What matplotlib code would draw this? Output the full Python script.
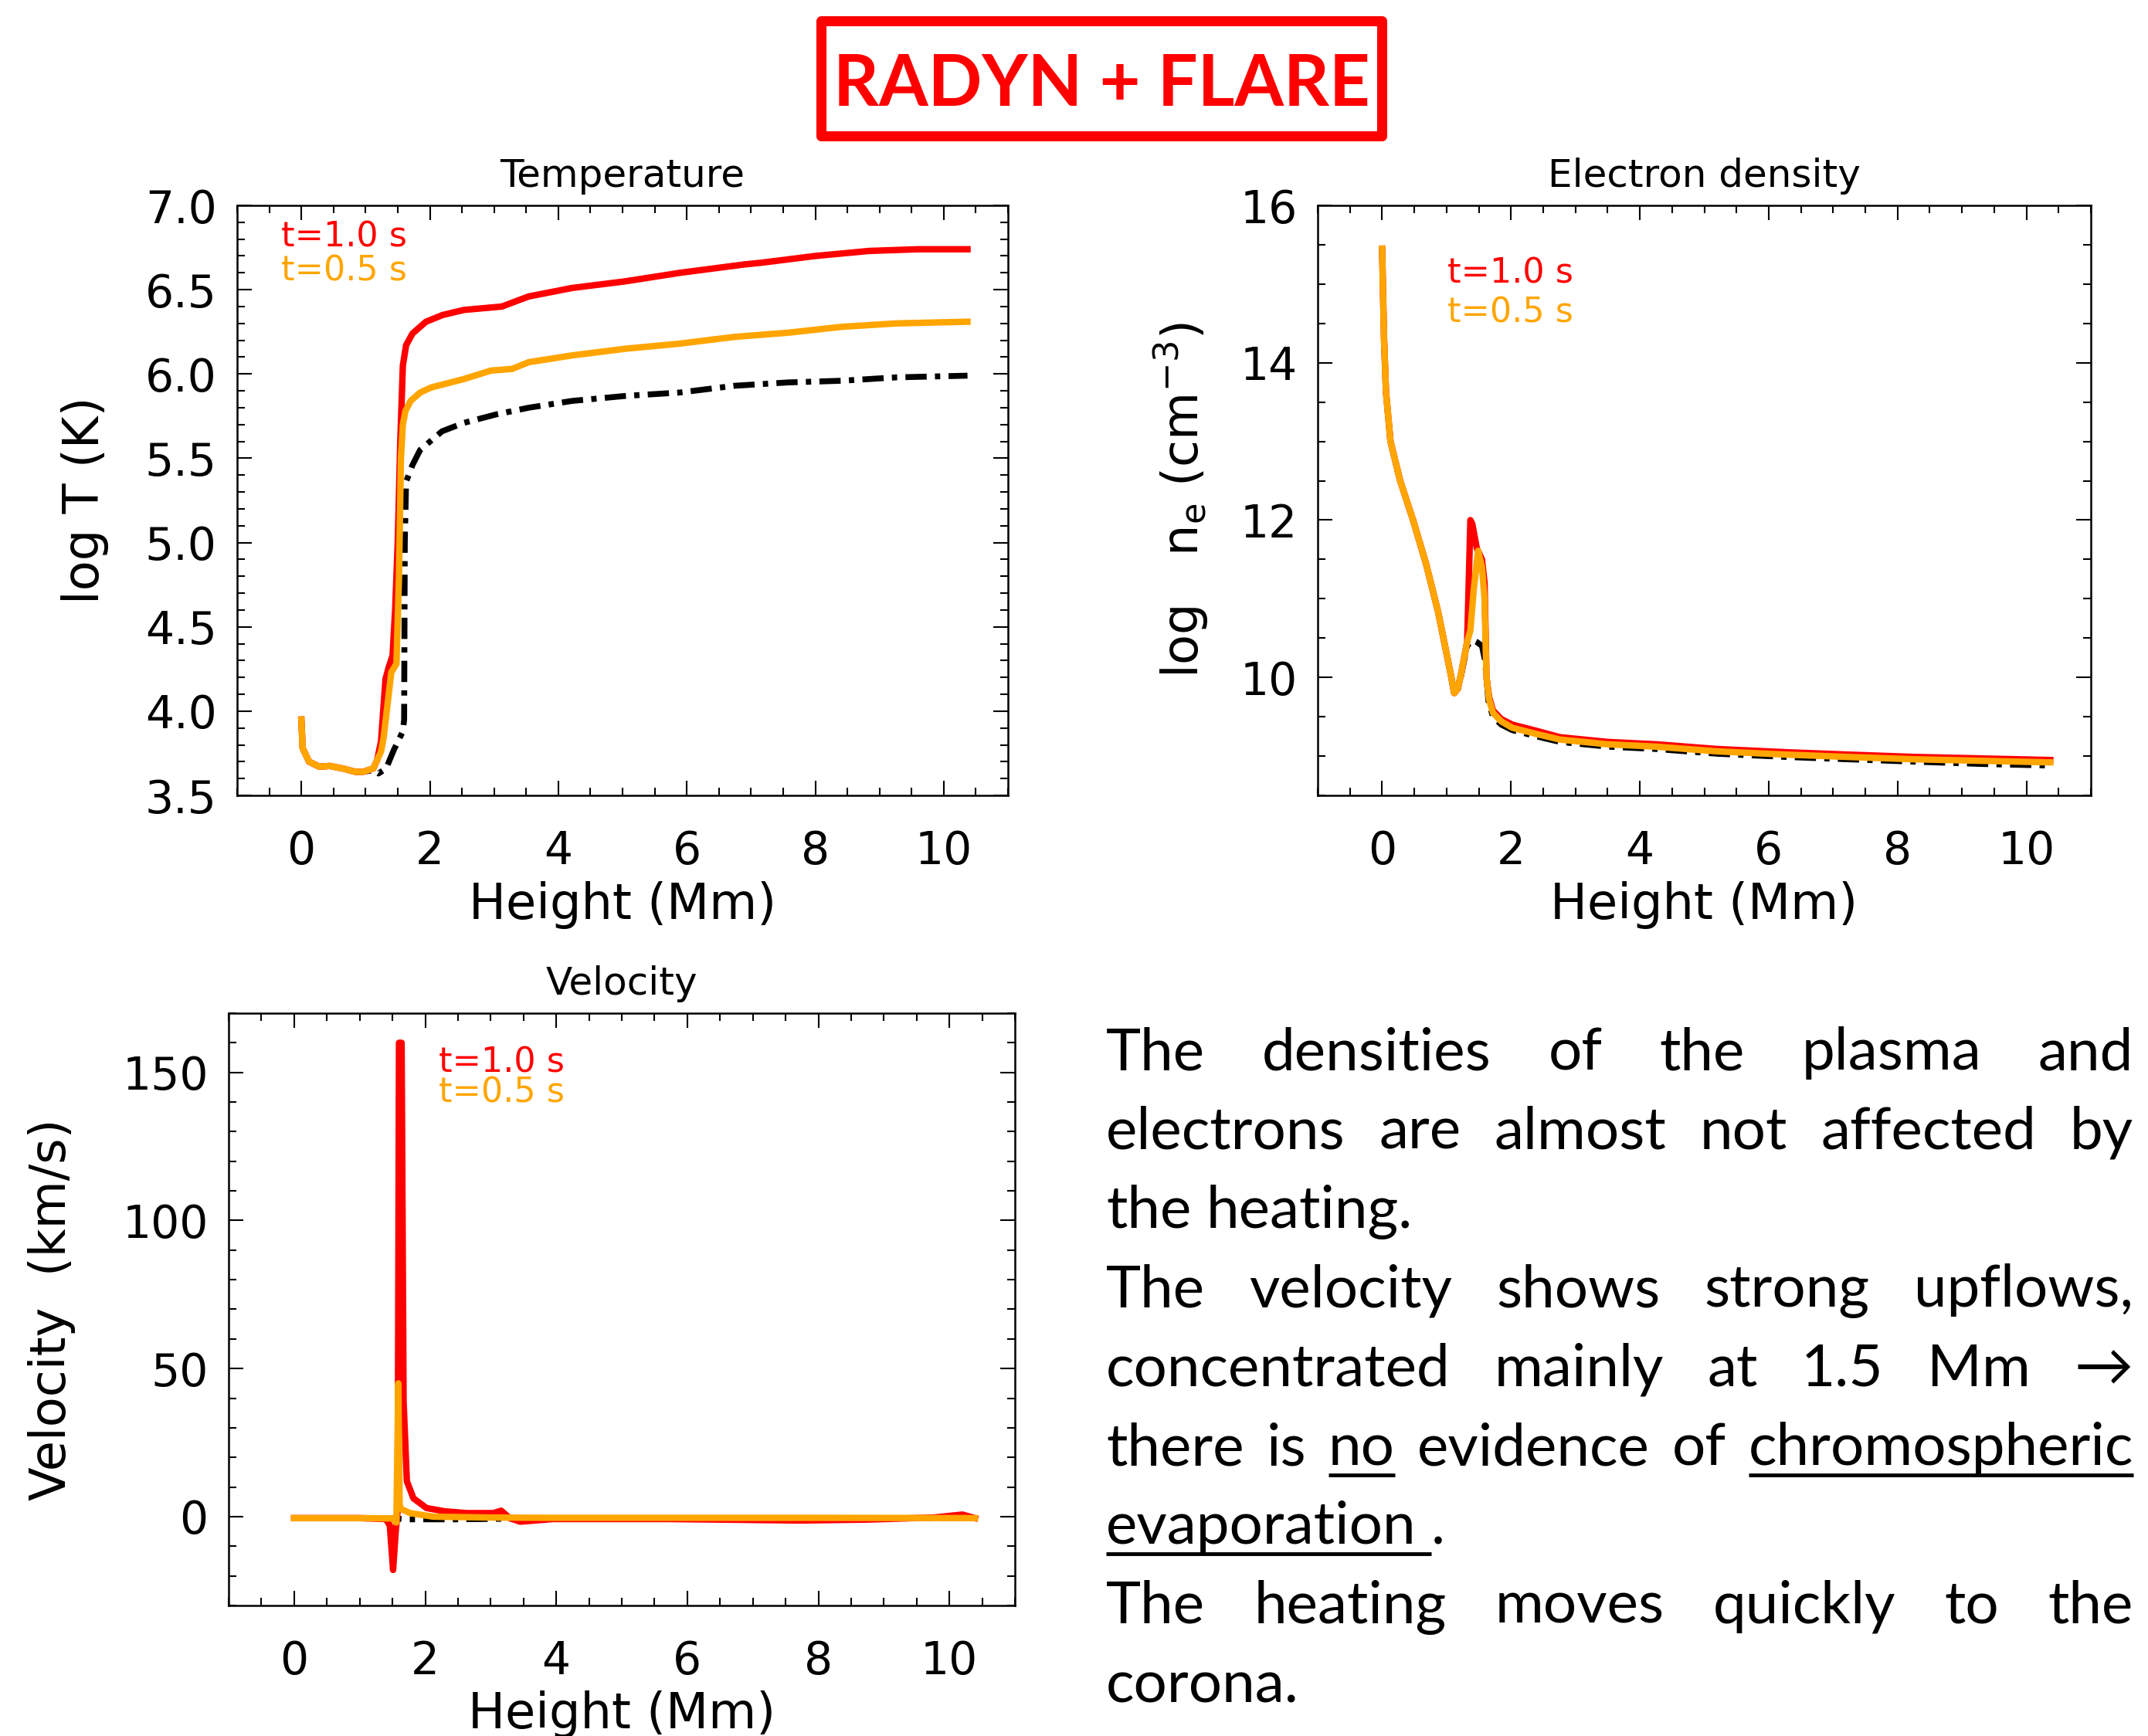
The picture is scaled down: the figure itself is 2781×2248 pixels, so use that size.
import matplotlib.pyplot as plt
import numpy as np
from matplotlib.ticker import MultipleLocator, FormatStrFormatter
from matplotlib.lines import Line2D
from matplotlib.patches import Rectangle

# ---------------- data ----------------
# Temperature panel (log T vs height in Mm)
temp_h_red = [0.0, 0.02, 0.12, 0.28, 0.44, 0.64, 0.84, 0.96, 1.12, 1.18, 1.24, 1.31, 1.36, 1.42,
              1.46, 1.50, 1.54, 1.58, 1.63, 1.73, 1.94, 2.2, 2.53, 3.12, 3.54, 4.21, 5.05, 5.89,
              6.9, 7.16, 8.0, 8.84, 9.6, 10.37]
temp_red = [3.95, 3.78, 3.70, 3.67, 3.675, 3.66, 3.64, 3.64, 3.66, 3.71, 3.82, 4.19, 4.26, 4.33,
            4.6, 5.0, 5.6, 6.05, 6.17, 6.24, 6.31, 6.35, 6.38, 6.40, 6.46, 6.51, 6.55, 6.60,
            6.65, 6.66, 6.70, 6.73, 6.74, 6.74]
temp_h_orange = [0.0, 0.02, 0.12, 0.28, 0.44, 0.64, 0.84, 0.96, 1.12, 1.18, 1.24, 1.28, 1.36, 1.40,
                 1.48, 1.52, 1.55, 1.58, 1.62, 1.70, 1.85, 2.02, 2.53, 2.95, 3.28, 3.54, 4.21,
                 5.05, 5.89, 6.74, 7.58, 8.42, 9.26, 10.37]
temp_orange = [3.95, 3.78, 3.70, 3.67, 3.675, 3.66, 3.64, 3.64, 3.66, 3.71, 3.76, 3.84, 4.10, 4.23,
               4.28, 4.8, 5.5, 5.70, 5.78, 5.84, 5.89, 5.92, 5.97, 6.02, 6.03, 6.07, 6.11,
               6.15, 6.18, 6.22, 6.245, 6.28, 6.30, 6.31]
temp_h_init = [0.0, 0.02, 0.12, 0.28, 0.44, 0.64, 0.84, 0.96, 1.12, 1.2, 1.32, 1.44, 1.58, 1.60,
               1.61, 1.63, 1.73, 1.85, 2.19, 2.53, 3.03, 3.54, 4.21, 5.05, 5.89, 6.74, 7.58,
               8.42, 9.26, 10.37]
temp_init = [3.95, 3.78, 3.70, 3.67, 3.675, 3.66, 3.64, 3.64, 3.65, 3.63, 3.66, 3.77, 3.88, 3.95,
             5.0, 5.36, 5.46, 5.55, 5.66, 5.71, 5.76, 5.80, 5.84, 5.87, 5.89, 5.93, 5.95,
             5.96, 5.98, 5.99]

# Electron density panel (log ne)
ne_h_red = [0, 0.03, 0.06, 0.13, 0.28, 0.48, 0.68, 0.87, 1.07, 1.12, 1.17, 1.22, 1.32, 1.37, 1.40,
            1.47, 1.55, 1.59, 1.62, 1.66, 1.72, 1.85, 2.02, 2.4, 2.76, 3.5, 4.25, 5.2, 6.24, 7.2,
            8.23, 9.3, 10.37]
ne_red = [15.45, 14.3, 13.63, 13.0, 12.5, 12.0, 11.45, 10.83, 10.02, 9.80, 9.85, 10.02, 10.45, 12.0,
          11.95, 11.64, 11.5, 11.2, 10.0, 9.75, 9.58, 9.47, 9.40, 9.32, 9.24, 9.18, 9.15, 9.09,
          9.05, 9.02, 8.99, 8.97, 8.95]
ne_h_orange = [0, 0.03, 0.06, 0.13, 0.28, 0.48, 0.68, 0.87, 1.07, 1.12, 1.17, 1.22, 1.32, 1.37, 1.42,
               1.49, 1.55, 1.59, 1.62, 1.66, 1.72, 1.85, 2.02, 2.4, 2.76, 3.5, 4.25, 5.2, 6.24,
               7.2, 8.23, 9.3, 10.37]
ne_orange = [15.45, 14.3, 13.63, 13.0, 12.5, 12.0, 11.45, 10.83, 10.02, 9.80, 9.85, 10.02, 10.45,
             10.6, 11.1, 11.61, 11.4, 11.0, 10.0, 9.72, 9.55, 9.44, 9.36, 9.28, 9.21, 9.15, 9.12,
             9.06, 9.02, 8.99, 8.96, 8.94, 8.92]
ne_h_init = [0, 0.03, 0.06, 0.13, 0.28, 0.48, 0.68, 0.87, 1.07, 1.12, 1.17, 1.22, 1.32, 1.37, 1.42,
             1.47, 1.55, 1.60, 1.65, 1.72, 1.85, 2.02, 2.4, 2.76, 3.5, 4.25, 5.2, 6.24, 7.2, 8.23,
             9.3, 10.37]
ne_init = [15.45, 14.3, 13.63, 13.0, 12.5, 12.0, 11.45, 10.83, 10.02, 9.78, 9.83, 10.0, 10.4, 10.45,
           10.47, 10.45, 10.4, 10.2, 9.7, 9.5, 9.40, 9.33, 9.25, 9.18, 9.12, 9.09, 9.03, 8.99,
           8.96, 8.93, 8.90, 8.88]

# Velocity panel (km/s)
vel_h_red = [0, 0.5, 1.0, 1.4, 1.46, 1.51, 1.55, 1.58, 1.60, 1.64, 1.67, 1.72, 1.82, 2.02, 2.3,
             2.63, 3.04, 3.16, 3.29, 3.45, 3.95, 5.0, 5.68, 6.5, 7.71, 8.73, 9.76, 10.2, 10.39]
vel_red = [-0.5, -0.5, -0.5, -0.8, -3, -18, -5, 2, 160, 160, 39, 12, 6.2, 2.9, 1.8,
           1.2, 1.2, 2.0, -0.5, -1.7, -0.8, -0.8, -0.8, -1.0, -1.3, -1.0, -0.3, 0.7, -0.5]
vel_h_orange = [0, 0.5, 1.0, 1.5, 1.56, 1.59, 1.61, 1.64, 1.77, 2.12, 3.0, 4.0, 6.0, 8.0, 10.39]
vel_orange = [-0.5, -0.5, -0.5, -0.6, -2.0, 45, 3.7, 2.5, 1.2, 0.0, -0.3, -0.4, -0.4, -0.4, -0.5]
vel_h_init = [0, 1.5, 1.7, 2.5, 4.0, 10.39]
vel_init = [-0.5, -0.5, -0.9, -0.9, -0.5, -0.5]

legend_labels = ['t=1.0 s', 't=0.5 s']

body_lines = [
    ("The densities of the plasma and", True),
    ("electrons are almost not affected by", True),
    ("the heating.", False),
    ("The velocity shows strong upflows,", True),
    ("concentrated mainly at 1.5 Mm \u2192", True),
    ("there is no evidence of chromospheric", True),
    ("evaporation .", False),
    ("The heating moves quickly to the", True),
    ("corona.", False),
]
underlined = {5: ["no", "chromospheric"], 6: ["evaporation"]}

# ---------------- figure ----------------
W, H = 2781, 2248
fig = plt.figure(figsize=(W / 100, H / 100), dpi=100)
RED = '#ff0000'
ORANGE = '#ffa500'
IDL = 'DejaVu Sans'
BODY = ['Lato', 'DejaVu Sans']


def fx(px):
    return px / W


def fy(py):
    return 1 - py / H


def make_axes(l, t, r, b):
    ax = fig.add_axes([fx(l), fy(b), (r - l) / W, (b - t) / H])
    ax.tick_params(which='both', direction='in', top=True, right=True, width=1.5, labelsize=42)
    ax.tick_params(which='major', length=14)
    ax.tick_params(which='minor', length=7)
    ax.tick_params(axis='x', pad=32)
    ax.tick_params(axis='y', pad=19)
    for s in ax.spines.values():
        s.set_linewidth(1.8)
    ax.set_xlim(-1, 11)
    ax.xaxis.set_major_locator(MultipleLocator(2))
    ax.xaxis.set_minor_locator(MultipleLocator(0.5))
    return ax


dashdot = (0, (3.6, 1.4, 0.9, 1.4))


def draw(ax, hi, yi, hr, yr, ho, yo, title, ylab, ylab_x, leg_x, leg_y):
    ax.plot(hi, yi, color='black', lw=5.5, linestyle=dashdot, zorder=2)
    ax.plot(hr, yr, color=RED, lw=6, zorder=3, solid_joinstyle='round')
    ax.plot(ho, yo, color=ORANGE, lw=6, zorder=4, solid_joinstyle='round')
    ax.text(0.5, 1.05, title, transform=ax.transAxes, ha='center', va='center',
            fontsize=36, family=IDL)
    ax.set_xlabel('Height (Mm)', fontsize=46, family=IDL, va='center')
    ax.xaxis.set_label_coords(0.5, -0.186)
    ax.set_ylabel(ylab, fontsize=46, family=IDL, va='center')
    ax.yaxis.set_label_coords(ylab_x, 0.5)
    for lab, col, yy in zip(legend_labels, [RED, ORANGE], leg_y):
        ax.text(leg_x, yy, lab, transform=ax.transAxes, color=col, fontsize=32,
                family=IDL, ha='left', va='center')


# Temperature
ax1 = make_axes(307, 266, 1305, 1030)
draw(ax1, temp_h_init, temp_init, temp_h_red, temp_red, temp_h_orange, temp_orange,
     'Temperature', 'log T (K)', -0.197, 0.057, [0.946, 0.889])
ax1.set_ylim(3.5, 7.0)
ax1.yaxis.set_major_locator(MultipleLocator(0.5))
ax1.yaxis.set_minor_locator(MultipleLocator(0.1))
ax1.yaxis.set_major_formatter(FormatStrFormatter('%.1f'))

# Electron density
ax2 = make_axes(1706, 266, 2707, 1030)
draw(ax2, ne_h_init, ne_init, ne_h_red, ne_red, ne_h_orange, ne_orange,
     'Electron density', r'log   n$_\mathregular{e}$ (cm$^\mathregular{-3}$)', -0.177,
     0.168, [0.885, 0.818])
ax2.set_ylim(8.5, 16)
ax2.yaxis.set_major_locator(MultipleLocator(2))
ax2.yaxis.set_minor_locator(MultipleLocator(0.5))

# Velocity
ax3 = make_axes(296, 1312, 1314, 2079)
draw(ax3, vel_h_init, vel_init, vel_h_red, vel_red, vel_h_orange, vel_orange,
     'Velocity', 'Velocity  (km/s)', -0.225, 0.267, [0.917, 0.866])
ax3.set_ylim(-30, 170)
ax3.yaxis.set_major_locator(MultipleLocator(50))
ax3.yaxis.set_minor_locator(MultipleLocator(10))
ax3.xaxis.set_label_coords(0.5, -0.184)

# Title box
fig.patches.append(Rectangle((fx(1062.5), fy(176)), (1788.5 - 1062.5) / W, (176 - 27) / H,
                             transform=fig.transFigure, fill=False, edgecolor=RED,
                             linewidth=9.4, joinstyle='round'))
fig.text(fx(1426), fy(137), 'RADYN + FLARE', color=RED, fontsize=66, weight='bold',
         family=['Lato', 'DejaVu Sans'], ha='center', va='baseline')

# Justified body text
renderer = fig.canvas.get_renderer()
BODY_FS = 55
x_left, x_right = 1432, 2762
base0, step = 1385, 102.4


def width_of(s):
    t = fig.text(0, 0, s, fontsize=BODY_FS, family=BODY)
    w = t.get_window_extent(renderer).width
    t.remove()
    return w


space_w = width_of('a a') - width_of('aa')

for i, (line, justify) in enumerate(body_lines):
    base = base0 + i * step
    words = line.split(' ')
    arts = [fig.text(0, fy(base), w, fontsize=BODY_FS, family=BODY, va='baseline', ha='left')
            for w in words]
    widths = [a.get_window_extent(renderer).width for a in arts]
    if justify and len(words) > 1:
        gap = (x_right - x_left - sum(widths)) / (len(words) - 1)
    else:
        gap = space_w
    x = x_left
    for w, a, wd in zip(words, arts, widths):
        a.set_x(fx(x))
        if w in underlined.get(i, []):
            ext = space_w if i == 6 else 0
            fig.add_artist(Line2D([fx(x), fx(x + wd + ext)], [fy(base + 13), fy(base + 13)],
                                  transform=fig.transFigure, color='black', lw=3.5,
                                  solid_capstyle='butt'))
        x += wd + gap

fig.savefig('out.png', dpi=100)
